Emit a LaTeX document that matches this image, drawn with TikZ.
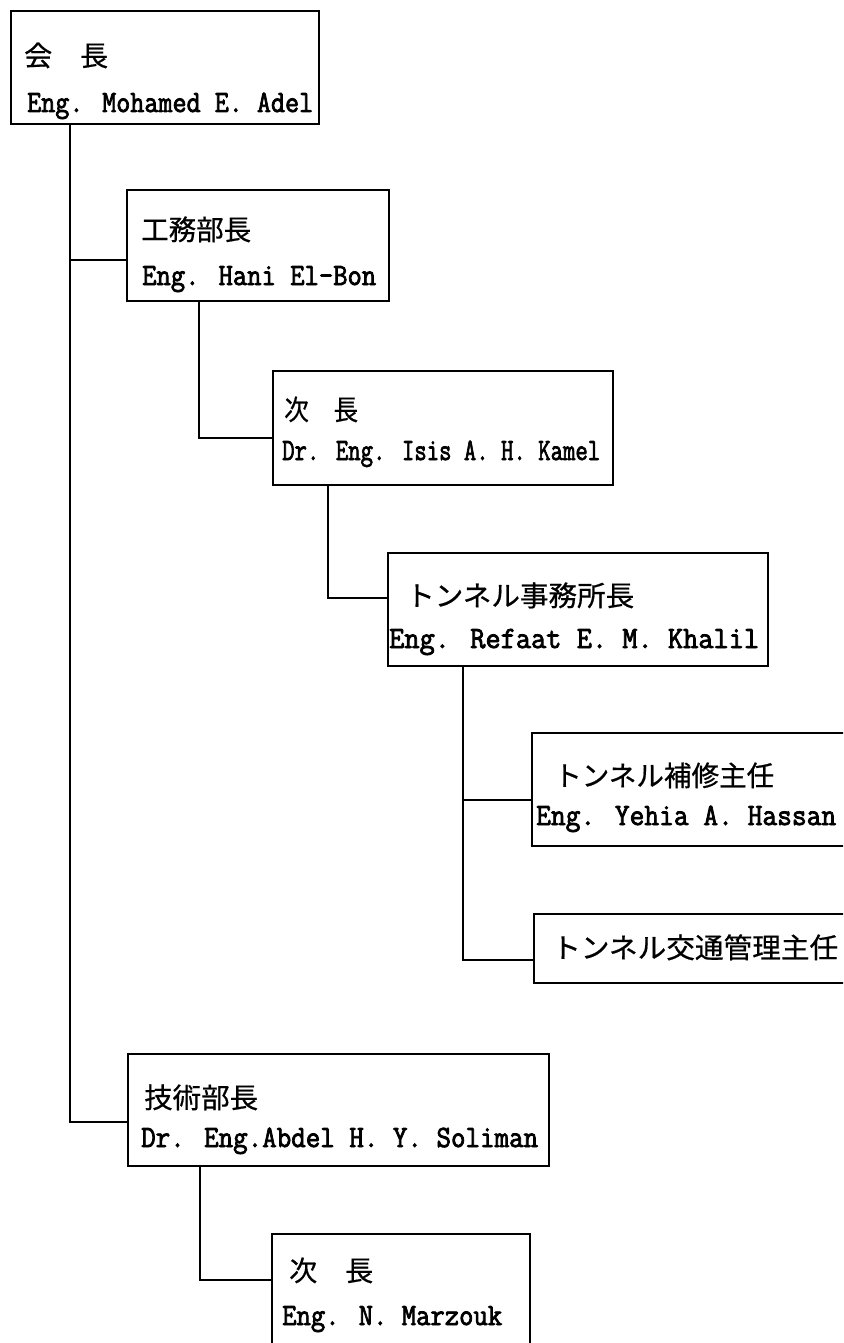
\documentclass[tikz,border=0pt]{standalone}
\usepackage{fontspec}
\usepackage{graphicx}
\newfontfamily\jpfam[FakeBold=0.6]{Noto Sans CJK JP}
\newfontfamily\enfam[FakeBold=2.6]{Latin Modern Mono}
\newcommand\jpfont{\jpfam\fontsize{28}{32}\selectfont}
\newcommand\enfont{\enfam\fontsize{31}{34}\selectfont}
\newcommand\fitto[2]{\resizebox{#1}{\height}{#2}}
\tikzset{
  orgbox/.style={draw, line width=1.8pt, inner sep=0pt, anchor=north west},
  jptext/.style={anchor=base west, inner sep=0pt, font=\jpfont},
  entext/.style={anchor=base west, inner sep=0pt, font=\enfont},
  conn/.style={line width=1.8pt}
}
\begin{document}
\begin{tikzpicture}[x=1pt,y=-1pt]
\useasboundingbox (0,0) rectangle (843,1343);
\fill[white] (0,0) rectangle (843,1343);
\clip (0,0) rectangle (843,1343);
% boxes
\node[orgbox, minimum width=308pt, minimum height=113pt] (b1) at (10,10) {};
\node[orgbox, minimum width=262pt, minimum height=111pt] (b2) at (126,189) {};
\node[orgbox, minimum width=340pt, minimum height=114pt] (b3) at (272,370) {};
\node[orgbox, minimum width=380pt, minimum height=113pt] (b4) at (387,552) {};
\node[orgbox, minimum width=400pt, minimum height=113pt] (b5) at (531,732) {};
\node[orgbox, minimum width=400pt, minimum height=69pt] (b6) at (533,913) {};
\node[orgbox, minimum width=421pt, minimum height=112pt] (b7) at (127,1053) {};
\node[orgbox, minimum width=258pt, minimum height=160pt] (b8) at (271,1233) {};
% texts
\node[jptext] (t1a) at (24,66) {\fitto{84pt}{会　長}};
\node[entext] (t1b) at (27,112) {\fitto{286pt}{Eng. Mohamed E. Adel}};
\node[jptext] (t2a) at (141,240) {\fitto{110pt}{工務部長}};
\node[entext] (t2b) at (142,285) {\fitto{234pt}{Eng. Hani El-Bon}};
\node[jptext] (t3a) at (284,420) {\fitto{74pt}{次　長}};
\node[entext] (t3b) at (282,460) {\fitto{318pt}{Dr. Eng. Isis A. H. Kamel}};
\node[jptext] (t4a) at (406,606) {\fitto{228pt}{トンネル事務所長}};
\node[entext] (t4b) at (389,648) {\fitto{370pt}{Eng. Refaat E. M. Khalil}};
\node[jptext] (t5a) at (554,786) {\fitto{220pt}{トンネル補修主任}};
\node[entext] (t5b) at (536,825) {\fitto{300pt}{Eng. Yehia A. Hassan}};
\node[jptext] (t6) at (552,958) {\fitto{286pt}{トンネル交通管理主任}};
\node[jptext] (t7a) at (144,1108) {\fitto{114pt}{技術部長}};
\node[entext] (t7b) at (141,1147) {\fitto{397pt}{Dr. Eng.Abdel H. Y. Soliman}};
\node[jptext] (t8a) at (289,1281) {\fitto{84pt}{次　長}};
\node[entext] (t8b) at (282,1325) {\fitto{220pt}{Eng. N. Marzouk}};
% connectors
\draw[conn] ([xshift=60pt]b1.south west) |- ([yshift=-71pt]b2.north west);
\draw[conn] ([xshift=60pt]b1.south west) |- ([yshift=-69pt]b7.north west);
\draw[conn] ([xshift=73pt]b2.south west) |- ([yshift=-68pt]b3.north west);
\draw[conn] ([xshift=56pt]b3.south west) |- ([yshift=-46pt]b4.north west);
\draw[conn] ([xshift=76pt]b4.south west) |- ([yshift=-68pt]b5.north west);
\draw[conn] ([xshift=76pt]b4.south west) |- ([yshift=-47pt]b6.north west);
\draw[conn] ([xshift=73pt]b7.south west) |- ([yshift=-47pt]b8.north west);
\end{tikzpicture}
\end{document}
